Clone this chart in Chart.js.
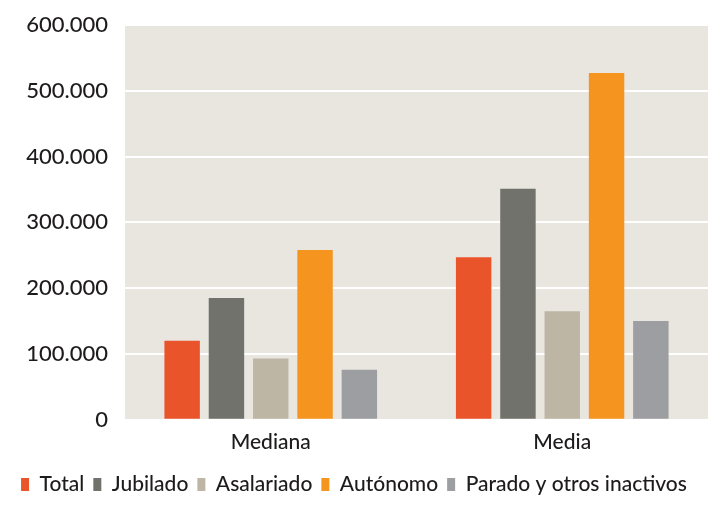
<!DOCTYPE html>
<html>
<head>
<meta charset="utf-8">
<script src="https://cdn.jsdelivr.net/npm/chart.js@4.4.1/dist/chart.umd.min.js"></script>
<style>
  html, body { margin: 0; padding: 0; background: #fff; }
  #wrap { width: 720px; height: 509px; }
</style>
</head>
<body>
<div id="wrap"><canvas id="grafico" width="720" height="509"></canvas></div>
<script>
// datos (euros)
const categorias = ['Mediana', 'Media'];
const total = [120000, 247000];
const jubilado = [185000, 351000];
const asalariado = [93000, 165000];
const autonomo = [258000, 527000];
const parado = [76000, 150000];
const yTicks = [0, 100000, 200000, 300000, 400000, 500000, 600000];

const colores = {
    total: '#e9542b',
    jubilado: '#71726c',
    asalariado: '#bdb6a5',
    autonomo: '#f5951f',
    parado: '#9d9ea2'
};

const fuente = 'Lato, "Open Sans", sans-serif';
const textoColor = '#1e1b1c';

// formato con punto de miles
function formato(v) {
    return String(v).replace(/\B(?=(\d{3})+(?!\d))/g, '.');
}

// fondo del área del gráfico
const fondoPlugin = {
    id: 'fondo',
    beforeDraw(chart) {
        const { ctx, chartArea } = chart;
        ctx.save();
        ctx.fillStyle = '#e9e6e0';
        ctx.fillRect(chartArea.left, chartArea.top, chartArea.right - chartArea.left, chartArea.bottom - chartArea.top);
        ctx.restore();
    }
};

function serie(label, data, color) {
    return {
        label: label,
        data: data,
        backgroundColor: color,
        borderWidth: 0,
        categoryPercentage: 0.76,
        barPercentage: 0.8
    };
}

new Chart(document.getElementById('grafico'), {
    type: 'bar',
    data: {
        labels: categorias,
        datasets: [
            serie('Total', total, colores.total),
            serie('Jubilado', jubilado, colores.jubilado),
            serie('Asalariado', asalariado, colores.asalariado),
            serie('Autónomo', autonomo, colores.autonomo),
            serie('Parado y otros inactivos', parado, colores.parado)
        ]
    },
    options: {
        responsive: false,
        animation: false,
        layout: { padding: { top: 25, right: 12, left: 0, bottom: 4 } },
        scales: {
            y: {
                min: 0,
                max: 600000,
                afterBuildTicks(axis) {
                    axis.ticks = yTicks.map(v => ({ value: v }));
                },
                afterFit(axis) {
                    axis.width = 125;
                    axis.paddingTop = 0;
                    axis.paddingBottom = 0;
                },
                grid: { color: '#ffffff', lineWidth: 2, drawTicks: false },
                border: { display: false },
                ticks: {
                    padding: 17,
                    color: textoColor,
                    font: { family: fuente, size: 22, weight: '500' },
                    callback: v => formato(v)
                }
            },
            x: {
                grid: { display: false, drawTicks: false },
                border: { display: false },
                ticks: {
                    padding: 10,
                    color: textoColor,
                    font: { family: fuente, size: 21, weight: '500' }
                }
            }
        },
        plugins: {
            legend: {
                position: 'bottom',
                labels: {
                    boxWidth: 8,
                    boxHeight: 13,
                    padding: 9,
                    color: textoColor,
                    font: { family: fuente, size: 21, weight: '500' }
                }
            },
            tooltip: { enabled: false }
        }
    },
    plugins: [fondoPlugin]
});
</script>
</body>
</html>
